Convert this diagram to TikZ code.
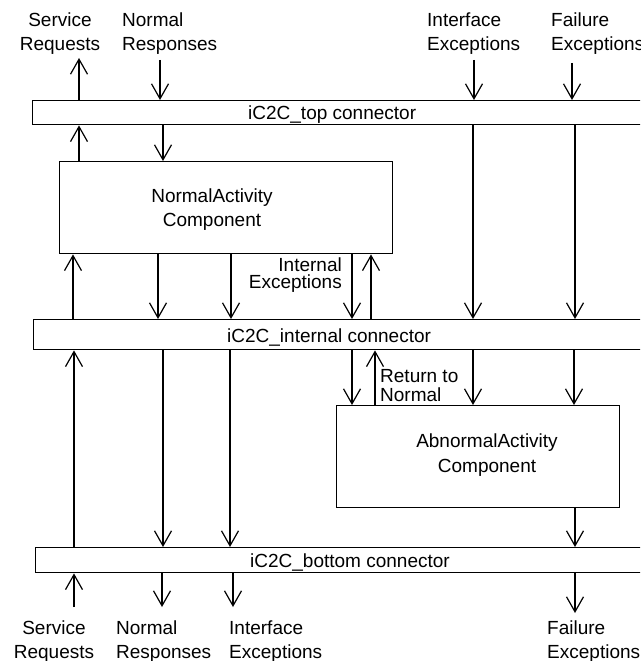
\documentclass[tikz,border=0pt]{standalone}
\usepackage{fontspec}
\setmainfont{Liberation Sans}
\usetikzlibrary{arrows.meta}
\begin{document}
\begin{tikzpicture}[x=1pt,y=-1pt,
  txt/.style={font=\fontsize{19}{23.5}\selectfont, inner sep=0pt},
  tighttxt/.style={font=\fontsize{19}{16.5}\selectfont, inner sep=0pt},
  rettxt/.style={font=\fontsize{19}{19}\selectfont, inner sep=0pt},
  barbox/.style={draw, line width=1.4pt, anchor=north west, minimum width=720pt, inner sep=0pt},
  compbox/.style={draw, line width=1.4pt, anchor=north west, inner sep=0pt},
  flow/.style={line width=1.2pt, -{Straight Barb[length=15pt,width=17pt,line width=1.2pt]}}
]
\useasboundingbox (0,0) rectangle (640,661);
\clip (0,0) rectangle (640,661);

% connector bars
\node[barbox, minimum height=24pt] (topbar) at (32,100) {};
\node[barbox, minimum height=30pt] (intbar) at (33,319) {};
\node[barbox, minimum height=25pt] (botbar) at (35,547) {};
\node[txt, anchor=base west] (toptxt) at (248,119) {iC2C\_top connector};
\node[txt, anchor=base west] (inttxt) at (227,342) {iC2C\_internal connector};
\node[txt, anchor=base west] (bottxt) at (250,567) {iC2C\_bottom connector};

% components
\node[compbox, minimum width=333pt, minimum height=92pt] (na) at (59,161) {};
\node[compbox, minimum width=283pt, minimum height=102pt] (aa) at (336,405) {};
\node[txt, align=center, anchor=north, font=\fontsize{19}{24}\selectfont] (natxt) at (212,189) {NormalActivity\\Component};
\node[txt, align=center, anchor=north, font=\fontsize{19}{25}\selectfont] (aatxt) at (487,434) {AbnormalActivity\\Component};

% external labels
\node[txt, align=center, anchor=north] (lSRt) at (60,13) {Service\\Requests};
\node[txt, align=left, anchor=north west] (lNRt) at (122,13) {Normal\\Responses};
\node[txt, align=left, anchor=north west] (lIEt) at (427,13) {Interface\\Exceptions};
\node[txt, align=left, anchor=north west] (lFEt) at (551,13) {Failure\\Exceptions};
\node[txt, align=center, anchor=north] (lSRb) at (54,621) {Service\\Requests};
\node[txt, align=left, anchor=north west] (lNRb) at (116,621) {Normal\\Responses};
\node[txt, align=left, anchor=north west] (lIEb) at (229,621) {Interface\\Exceptions};
\node[txt, align=left, anchor=north west] (lFEb) at (547,621) {Failure\\Exceptions};
\node[tighttxt, align=right, anchor=north east] (lIX) at (342,258) {Internal\\Exceptions};
\node[rettxt, align=left, anchor=north west] (lRN) at (380,369) {Return to\\Normal};

% column coordinates and free ends
\coordinate (tSR) at (79,58);
\coordinate (tNR) at (160,60);
\coordinate (tIE) at (474,60);
\coordinate (tFE) at (572,63);
\coordinate (bSR) at (74,607);
\coordinate (bNR) at (162,607);
\coordinate (bIE) at (233,607);
\coordinate (bFE) at (575,613);
\coordinate (cSRa) at (79,0);
\coordinate (cSRb) at (73,0);
\coordinate (cSRc) at (74,0);
\coordinate (cNRb) at (163,0);
\coordinate (cNRc) at (158,0);
\coordinate (cNRd) at (163,0);
\coordinate (cIEb) at (473,0);
\coordinate (cIEc) at (231,0);
\coordinate (cIEd) at (230,0);
\coordinate (cFEb) at (575,0);
\coordinate (cFEc) at (574,0);
\coordinate (cFEd) at (575,0);
\coordinate (cIX) at (352,0);
\coordinate (cRNa) at (371,0);
\coordinate (cRNb) at (375,0);

% above the top connector
\draw[flow] (tSR |- topbar.north) -- (tSR);
\draw[flow] (tNR) -- (tNR |- topbar.north);
\draw[flow] (tIE) -- (tIE |- topbar.north);
\draw[flow] (tFE) -- (tFE |- topbar.north);

% top connector <-> normal activity / internal connector
\draw[flow] (cSRa |- na.north) -- (cSRa |- topbar.south);
\draw[flow] (cNRb |- topbar.south) -- (cNRb |- na.north);
\draw[flow] (cIEb |- topbar.south) -- (cIEb |- intbar.north);
\draw[flow] (cFEb |- topbar.south) -- (cFEb |- intbar.north);

% normal activity <-> internal connector
\draw[flow] (cSRb |- intbar.north) -- (cSRb |- na.south);
\draw[flow] (cNRc |- na.south) -- (cNRc |- intbar.north);
\draw[flow] (cIEc |- na.south) -- (cIEc |- intbar.north);
\draw[flow] (cIX |- na.south) -- (cIX |- intbar.north);
\draw[flow] (cRNa |- intbar.north) -- (cRNa |- na.south);

% internal connector <-> abnormal activity
\draw[flow] (cIX |- intbar.south) -- (cIX |- aa.north);
\draw[flow] (cRNb |- aa.north) -- (cRNb |- intbar.south);
\draw[flow] (cIEb |- intbar.south) -- (cIEb |- aa.north);
\draw[flow] (cFEc |- intbar.south) -- (cFEc |- aa.north);

% internal connector <-> bottom connector
\draw[flow] (cSRc |- botbar.north) -- (cSRc |- intbar.south);
\draw[flow] (cNRd |- intbar.south) -- (cNRd |- botbar.north);
\draw[flow] (cIEd |- intbar.south) -- (cIEd |- botbar.north);
\draw[flow] (cFEd |- aa.south) -- (cFEd |- botbar.north);

% below the bottom connector
\draw[flow] (bSR) -- (bSR |- botbar.south);
\draw[flow] (bNR |- botbar.south) -- (bNR);
\draw[flow] (bIE |- botbar.south) -- (bIE);
\draw[flow] (bFE |- botbar.south) -- (bFE);
\end{tikzpicture}
\end{document}
